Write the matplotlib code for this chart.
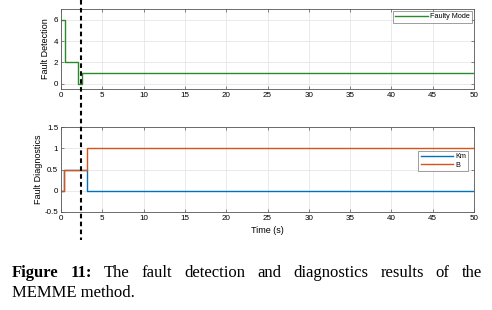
import matplotlib
matplotlib.use("Agg")
import matplotlib.pyplot as plt
from matplotlib import transforms
from matplotlib.lines import Line2D

# ---- data ----
fm_t = [0, 0.45, 0.45, 2.1, 2.1, 2.6, 2.6, 50]
fm_v = [6, 6, 2, 2, 0, 0, 1, 1]
km_t = [0, 0.4, 0.4, 3.15, 3.15, 50]
km_v = [0, 0, 0.5, 0.5, 0, 0]
b_t = [0, 0.4, 0.4, 3.15, 3.15, 50]
b_v = [0, 0, 0.5, 0.5, 1, 1]
fault_time = 2.4
xticks = list(range(0, 51, 5))
top_yticks = [0, 2, 4, 6]
bot_yticks = [-0.5, 0, 0.5, 1, 1.5]
bot_yticklabels = ["-0.5", "0", "0.5", "1", "1.5"]

plt.rcParams['font.family'] = ['Liberation Sans', 'DejaVu Sans']
fig = plt.figure(figsize=(4.92, 3.10), dpi=100)
fig.patch.set_facecolor('white')

W, H = 492, 310
def rect(l, t, r, b):
    return [l / W, 1 - b / H, (r - l) / W, (b - t) / H]

ax1 = fig.add_axes(rect(61, 9, 474, 89))
ax2 = fig.add_axes(rect(61, 127, 474, 212))

for ax in (ax1, ax2):
    ax.set_xlim(0, 50)
    ax.set_xticks(xticks)
    ax.grid(True, color='#e6e6e6', linewidth=0.6)
    ax.set_axisbelow(True)
    for s in ax.spines.values():
        s.set_color('#555555')
        s.set_linewidth(0.6)
    ax.tick_params(labelsize=5.8, length=2.5, width=0.5, color='#555555',
                   direction='in', top=True, right=True, pad=2)

ax1.plot(fm_t, fm_v, color='#2a8a2a', linewidth=1.0, label='Faulty Mode')
ax1.set_ylim(-0.5, 7)
ax1.set_yticks(top_yticks)
ax1.set_ylabel('Fault Detection', fontsize=6.5, labelpad=3)
ax1.legend(loc='upper right', fontsize=5.2, frameon=True, fancybox=False,
           edgecolor='#555555', handlelength=4.5, borderpad=0.3,
           handletextpad=0.3, borderaxespad=0.3).get_frame().set_linewidth(0.5)

ax2.plot(km_t, km_v, color='#0072BD', linewidth=1.0, label='Km')
ax2.plot(b_t, b_v, color='#D95319', linewidth=1.0, label='B')
ax2.set_ylim(-0.5, 1.5)
ax2.set_yticks(bot_yticks)
ax2.set_yticklabels(bot_yticklabels)
ax2.set_ylabel('Fault Diagnostics', fontsize=6.5, labelpad=1)
ax2.set_xlabel('Time (s)', fontsize=6.5, labelpad=3)
leg = ax2.legend(loc='center right', bbox_to_anchor=(0.995, 0.60), fontsize=5.2,
                 frameon=True, fancybox=False, edgecolor='#555555',
                 handlelength=4.5, borderpad=0.3, handletextpad=0.3,
                 labelspacing=0.2)
leg.get_frame().set_linewidth(0.5)

# dashed fault line spanning both panels
tr = transforms.blended_transform_factory(ax1.transData, fig.transFigure)
fig.add_artist(Line2D([fault_time, fault_time], [1.0, 1 - 240 / H],
                      transform=tr, color='black', linewidth=1.5,
                      linestyle=(0, (2.2, 1.6))))

# caption, justified
fig.canvas.draw()
r = fig.canvas.get_renderer()
cap_size = 12
y1 = 1 - 277 / H
y2 = 1 - 297 / H
x_left, x_right = 12 / W, 482 / W
words = [("Figure", 'bold'), ("11:", 'bold'), ("The", 'normal'), ("fault", 'normal'),
         ("detection", 'normal'), ("and", 'normal'), ("diagnostics", 'normal'),
         ("results", 'normal'), ("of", 'normal'), ("the", 'normal')]
texts = []
for w, wt in words:
    t = fig.text(0, y1, w, fontsize=cap_size, fontweight=wt,
                 family='Liberation Serif', va='baseline', ha='left')
    texts.append(t)
fig.canvas.draw()
widths = [t.get_window_extent(r).width / W for t in texts]
gap = (x_right - x_left - sum(widths)) / (len(words) - 1)
x = x_left
for t, w in zip(texts, widths):
    t.set_x(x)
    x += w + gap
fig.text(x_left, y2, "MEMME method.", fontsize=cap_size,
         family='Liberation Serif', va='baseline', ha='left')

fig.savefig('out.png', dpi=100, facecolor='white')
